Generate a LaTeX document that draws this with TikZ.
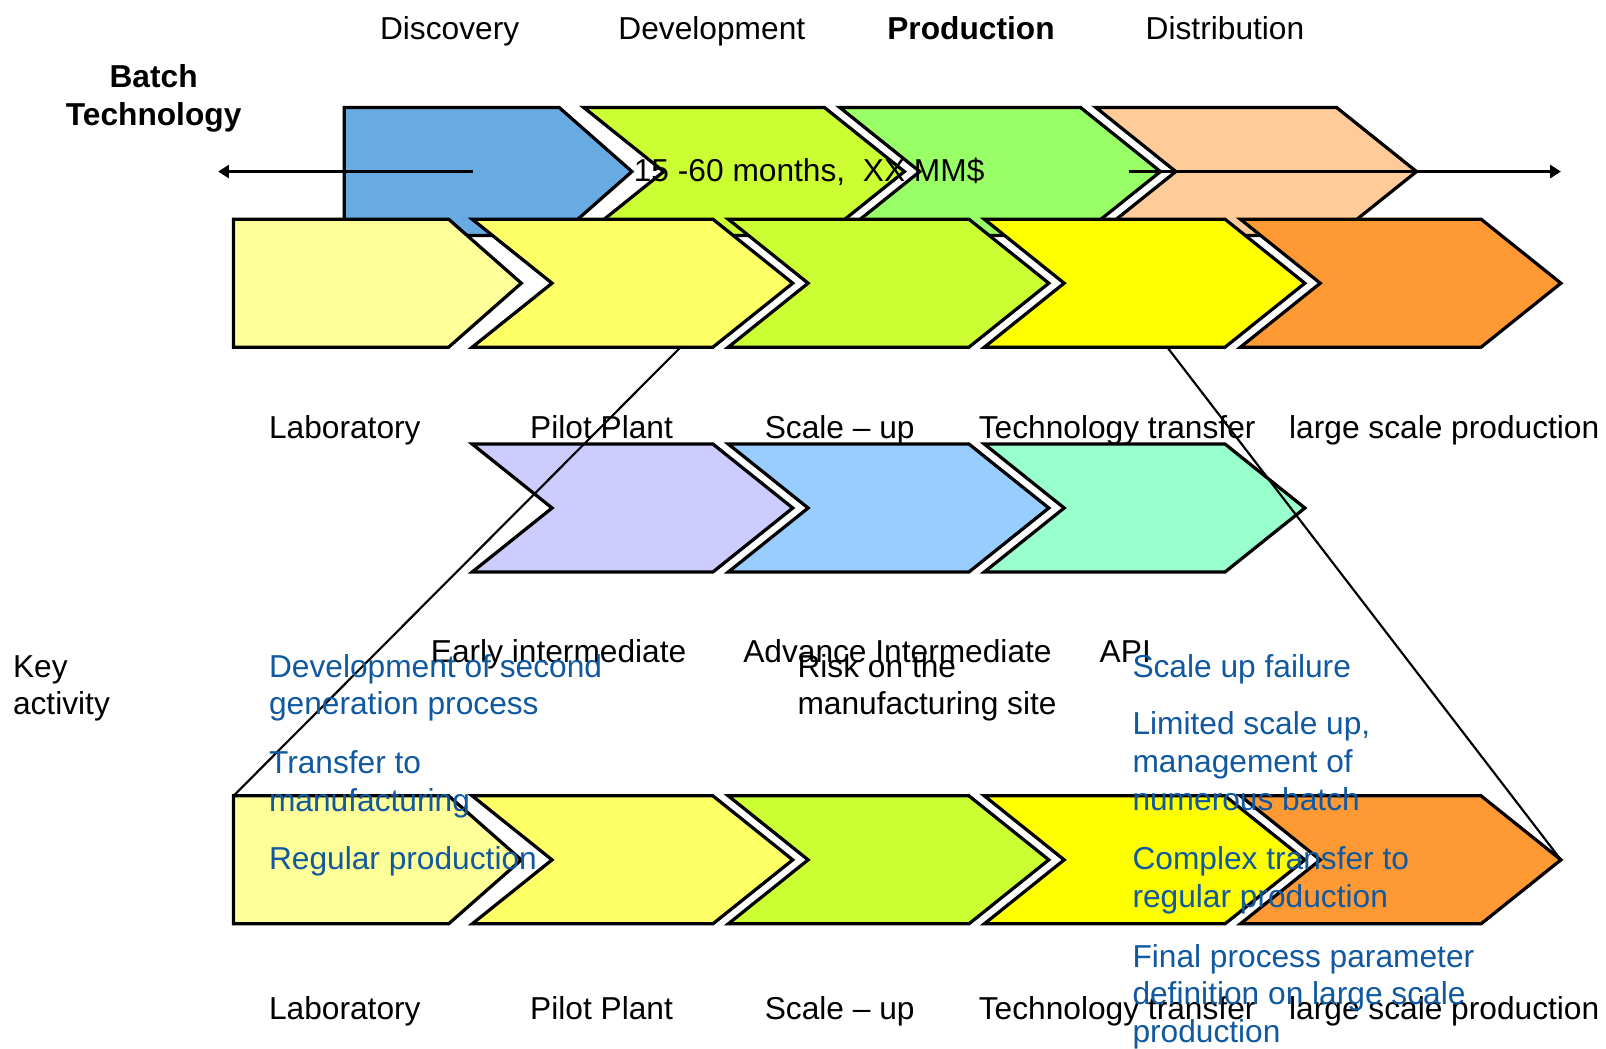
\documentclass[tikz,border=0pt]{standalone}
\usepackage{fontspec}
\setmainfont{Liberation Sans}
\usetikzlibrary{arrows.meta}

% fills
\definecolor{phaseA}{RGB}{104,170,226}
\definecolor{phaseB}{HTML}{CCFF33}
\definecolor{phaseC}{HTML}{99FF66}
\definecolor{phaseD}{HTML}{FFCC99}
\definecolor{stageA}{HTML}{FFFF99}
\definecolor{stageB}{HTML}{FFFF66}
\definecolor{stageC}{HTML}{CCFF33}
\definecolor{stageD}{HTML}{FFFF00}
\definecolor{stageE}{HTML}{FF9933}
\definecolor{interA}{HTML}{CCCCFF}
\definecolor{interB}{HTML}{99CCFF}
\definecolor{interC}{HTML}{99FFCC}
\definecolor{actblue}{RGB}{16,88,160}

\newcommand{\figfont}{\fontsize{8.8}{10.5}\selectfont}
\newcommand{\chevW}{235}
\newcommand{\chevD}{78}
\newcommand{\chevH}{62.5}

% notched chevron: #1 left x, #2 top y, #3 fill, #4 name
\newcommand{\chevron}[4]{%
  \draw[chev, fill=#3] (#1,#2) coordinate (#4-nw)
    -- ++(\chevW,0) -- ++(\chevD,\chevH) coordinate (#4-tip)
    -- ++(-\chevD,\chevH) -- ++(-\chevW,0) coordinate (#4-sw)
    -- ++(\chevD,-\chevH) -- cycle;}
% first block of a row (flat back)
\newcommand{\pentagon}[4]{%
  \draw[chev, fill=#3] (#1,#2) coordinate (#4-nw)
    -- ++(210,0) -- ++(71,\chevH) coordinate (#4-tip)
    -- ++(-71,\chevH) -- ++(-210,0) coordinate (#4-sw) -- cycle;}

\begin{document}
\begin{tikzpicture}[
    x=0.01cm, y=-0.01cm,
    every node/.style={font=\figfont, inner sep=0pt},
    chev/.style={draw=black, line width=0.9pt, line join=miter},
    phaselbl/.style={anchor=base},
    stagelbl/.style={anchor=base west},
    activity/.style={anchor=base west, align=left, text=actblue},
    zoomline/.style={draw=black, line width=0.6pt},
    span/.style={line width=0.8pt, -{Triangle[length=3pt, width=3.6pt]}}
]
\useasboundingbox (0,0) rectangle (1568,1024);

% --- phases (back row)
\pentagon{336}{105}{phaseA}{disc}
\chevron{570}{105}{phaseB}{dev}
\chevron{820}{105}{phaseC}{prod}
\chevron{1070}{105}{phaseD}{dist}

% duration arrow
\coordinate (spanL) at (462,167.5);
\coordinate (spanLend) at (213,167.5);
\coordinate (spanR) at (1102,167.5);
\coordinate (spanRend) at (1524,167.5);
\draw[span] (spanL) -- (spanLend);
\draw[span] (spanR) -- (spanRend);
\node[anchor=base] (span) at (790,177.5) {15 -60 months,\ \ XX MM\$};

% --- stages
\pentagon{228}{214}{stageA}{lab}
\chevron{461}{214}{stageB}{pilot}
\chevron{711}{214}{stageC}{scale}
\chevron{961}{214}{stageD}{transfer}
\chevron{1211}{214}{stageE}{large}

% --- intermediates
\chevron{461}{433.5}{interA}{early}
\chevron{711}{433.5}{interB}{advance}
\chevron{961}{433.5}{interC}{api}

% --- stages again (bottom)
\pentagon{228}{777}{stageA}{labB}
\chevron{461}{777}{stageB}{pilotB}
\chevron{711}{777}{stageC}{scaleB}
\chevron{961}{777}{stageD}{transferB}
\chevron{1211}{777}{stageE}{largeB}

% zoom lines
\coordinate (zoomL) at (664,339.5);
\coordinate (zoomR) at (1140,339.5);
\draw[zoomline] (zoomL) -- (labB-nw);
\draw[zoomline] (zoomR) -- (largeB-tip);

% --- labels (multi-line nodes sit on their last baseline)
\node[phaselbl] (discL) at (439,38.5) {Discovery};
\node[phaselbl] (devL) at (695,38.5) {Development};
\node[phaselbl, font=\figfont\bfseries] (prodL) at (948,38.5) {Production};
\node[phaselbl] (distL) at (1196,38.5) {Distribution};
\node[anchor=base, align=center, font=\fontsize{8.8}{10.8}\selectfont\bfseries] (batch) at (150,123) {Batch\\Technology};

\node[stagelbl] (labL) at (262,428.5) {Laboratory};
\node[stagelbl] (pilotL) at (517,428.5) {Pilot Plant};
\node[stagelbl] (scaleL) at (746,428.5) {Scale -- up};
\node[stagelbl] (transferL) at (955,428.5) {Technology transfer};
\node[stagelbl] (largeL) at (1258,428.5) {large scale production};

\node[stagelbl] (earlyL) at (420,646.5) {Early intermediate};
\node[stagelbl] (advanceL) at (725,646.5) {Advance Intermediate};
\node[stagelbl] (apiL) at (1073,646.5) {API};

\node[stagelbl] (labBL) at (262,995) {Laboratory};
\node[stagelbl] (pilotBL) at (517,995) {Pilot Plant};
\node[stagelbl] (scaleBL) at (746,995) {Scale -- up};
\node[stagelbl] (transferBL) at (955,995) {Technology transfer};
\node[stagelbl] (largeBL) at (1258,995) {large scale production};

% --- key activities
\node[anchor=base west, align=left] (key) at (12,698) {Key\\activity};
\node[activity] (secondgen) at (262,698) {Development of second\\generation process};
\node[activity] (tomanuf) at (262,792) {Transfer to\\manufacturing};
\node[activity] (regular) at (262,849) {Regular production};
\node[anchor=base west, align=left] (risk) at (778,698) {Risk on the\\manufacturing site};
\node[activity] (failure) at (1105,661) {Scale up failure};
\node[activity] (limited) at (1105,791) {Limited scale up,\\management of\\numerous batch};
\node[activity] (complex) at (1105,886) {Complex transfer to\\regular production};
\node[activity] (final) at (1105,1018) {Final process parameter\\definition on large scale\\production};
\end{tikzpicture}
\end{document}
